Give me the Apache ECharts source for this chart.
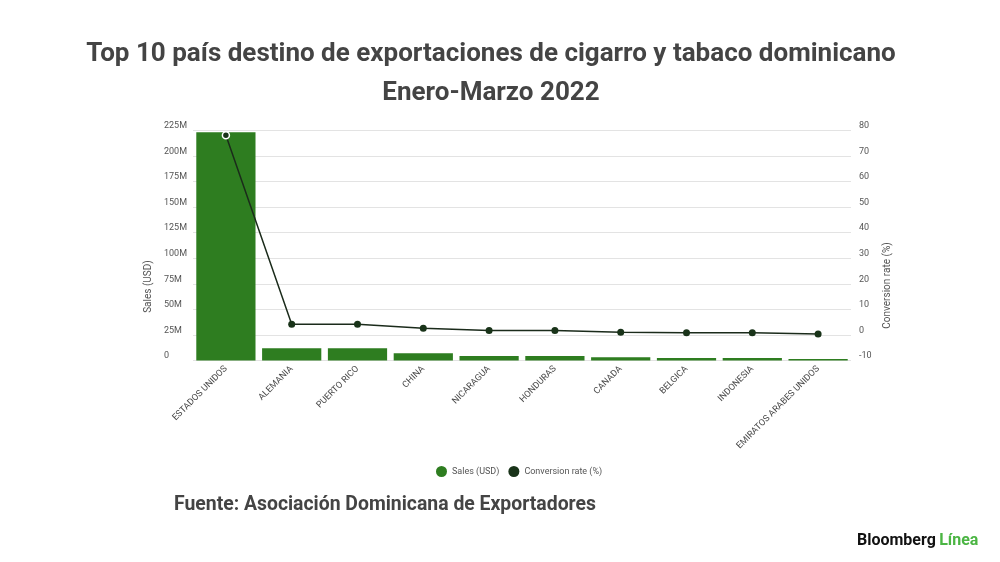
<!DOCTYPE html>
<html>
<head>
<meta charset="utf-8">
<script src="https://cdn.jsdelivr.net/npm/echarts@6/dist/echarts.min.js"></script>
<style>
html,body{margin:0;padding:0;background:#fff;}
#main{width:1000px;height:562px;}
</style>
</head>
<body>
<div id="main"></div>
<script>
// datos
var paises = ['ESTADOS UNIDOS','ALEMANIA','PUERTO RICO','CHINA','NICARAGUA','HONDURAS','CANADA','BELGICA','INDONESIA','EMIRATOS ARABES UNIDOS']
var ventas = [223.4e6, 11.9e6, 11.9e6, 7.1e6, 4.4e6, 4.4e6, 3.1e6, 2.4e6, 2.4e6, 1.5e6]
var conversion = [78.1, 4.2, 4.2, 2.6, 1.7, 1.7, 1.1, 0.9, 0.9, 0.4]

var chart = echarts.init(document.getElementById('main'))

var lineData = []
for (var i = 0; i < conversion.length; i++) {
    if (i == 0) {
        lineData.push({value: conversion[i], itemStyle: {borderColor: '#fff', borderWidth: 1.5}})
    } else {
        lineData.push(conversion[i])
    }
}

var option = {
    backgroundColor: '#fff',
    animation: false,
    textStyle: {fontFamily: 'Roboto'},
    title: [{
        text: 'Top 10 país destino de exportaciones de cigarro y tabaco dominicano\nEnero-Marzo 2022',
        left: 486,
        top: 30,
        textAlign: 'center',
        textStyle: {fontSize: 26, fontWeight: 'bold', color: '#444', lineHeight: 39, fontFamily: 'Roboto'}
    }],
    legend: {
        bottom: 80,
        left: 431,
        icon: 'circle',
        itemWidth: 11,
        itemHeight: 11,
        itemGap: 9,
        textStyle: {fontSize: 9, color: '#555'},
        data: ['Sales (USD)', 'Conversion rate (%)']
    },
    grid: {left: 193, right: 149, top: 130.5, bottom: 201.5},
    xAxis: {
        type: 'category',
        data: paises,
        axisLine: {show: false},
        axisTick: {show: false},
        axisLabel: {
            rotate: 45,
            interval: 0,
            fontSize: 9,
            color: '#4a4a4a',
            margin: 7
        }
    },
    yAxis: [{
        type: 'value',
        name: 'Sales (USD)',
        nameLocation: 'middle',
        nameGap: 38,
        nameTextStyle: {fontSize: 10, color: '#555', padding: [0, 82, 0, 0]},
        min: 0,
        max: 225e6,
        interval: 25e6,
        axisLine: {show: false},
        axisTick: {show: false},
        axisLabel: {
            fontSize: 9,
            color: '#555',
            align: 'left',
            margin: 29,
            verticalAlign: 'bottom',
            formatter: function (v) { return v == 0 ? '0' : (v / 1e6) + 'M' }
        },
        splitLine: {lineStyle: {color: '#e3e3e3'}}
    }, {
        type: 'value',
        name: 'Conversion rate (%)',
        nameLocation: 'middle',
        nameGap: 25,
        nameTextStyle: {fontSize: 10, color: '#555', padding: [0, 80, 0, 0]},
        min: -10,
        max: 80,
        interval: 10,
        axisLine: {show: false},
        axisTick: {show: false},
        axisLabel: {fontSize: 9, color: '#555', margin: 8, verticalAlign: 'bottom'},
        splitLine: {show: false}
    }],
    series: [{
        name: 'Sales (USD)',
        type: 'bar',
        data: ventas,
        barCategoryGap: '10%',
        itemStyle: {color: '#2e7d20'}
    }, {
        name: 'Conversion rate (%)',
        type: 'line',
        yAxisIndex: 1,
        data: lineData,
        symbol: 'circle',
        symbolSize: 7,
        lineStyle: {color: '#1b2b1b', width: 1.5},
        itemStyle: {color: '#193319'}
    }],
    graphic: [{
        type: 'text',
        left: 174,
        top: 496,
        style: {text: 'Fuente: Asociación Dominicana de Exportadores', fontSize: 19.4, fontWeight: 'bold', fill: '#444', fontFamily: 'Roboto'}
    }, {
        type: 'text',
        left: 857,
        top: 533,
        style: {
            text: '{a|Bloomberg} {b|Línea}',
            rich: {
                a: {fontSize: 16, fontWeight: 'bold', fill: '#111', fontFamily: 'Roboto'},
                b: {fontSize: 16, fontWeight: 'bold', fill: '#4bb543', fontFamily: 'Roboto'}
            }
        }
    }]
}
chart.setOption(option)
</script>
</body>
</html>
